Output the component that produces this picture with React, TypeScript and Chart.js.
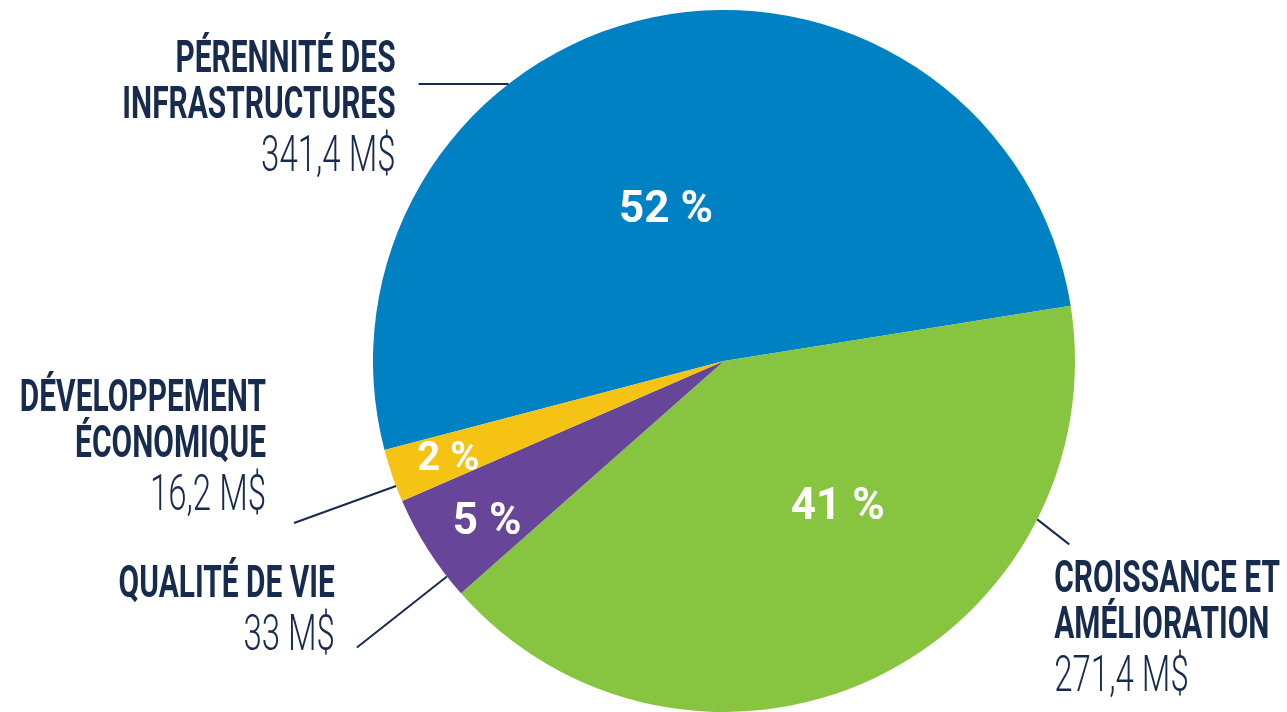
import React, { useEffect, useRef } from "react";
import { Chart, registerables } from "chart.js";

Chart.register(...registerables);

// ---- data ----
const categoryLines: string[][] = [
  ["PÉRENNITÉ DES", "INFRASTRUCTURES"],
  ["CROISSANCE ET", "AMÉLIORATION"],
  ["QUALITÉ DE VIE"],
  ["DÉVELOPPEMENT", "ÉCONOMIQUE"],
];
const amounts: number[] = [341.4, 271.4, 33, 16.2];
const unit = "M$";
const sliceColors: string[] = ["#0081c4", "#87c440", "#674599", "#f4c314"];

// ---- layout / style (annotation placement) ----
// percent label: fraction along arc, radius fraction, font size
const pctLayout = [
  { f: 0.453, r: 0.47, size: 44 },
  { f: 0.41, r: 0.52, size: 44 },
  { f: 0.44, r: 0.81, size: 44 },
  { f: 0.52, r: 0.83, size: 40 },
];
// leader: fraction along arc for start; offset of end from start; text offset from end
const leaderLayout = [
  { f: 0.36, dx: -90, dy: 0, tx: -23, ty: -12, align: "right" as CanvasTextAlign },
  { f: 0.243, dx: 32, dy: 25, tx: -15, ty: 48, align: "left" as CanvasTextAlign },
  { f: 0.2, dx: -90, dy: 71, tx: -22, ty: -50, align: "right" as CanvasTextAlign },
  { f: 0.3, dx: -102, dy: 37, tx: -28, ty: -112, align: "right" as CanvasTextAlign },
];
const NAVY = "#172b4f";
const BOLD_SIZE = 44;
const NUM_SIZE = 50;
const BOLD_SCALE = 0.68;
const NUM_SCALE = 0.66;
const LINE_GAP = 46;
const NUM_GAP = 53;

const total = amounts.reduce((a, b) => a + b, 0);
const fmtAmount = (v: number) => `${String(v).replace(".", ",")} ${unit}`;
const fmtPct = (v: number) => `${Math.round((v / total) * 100)} %`;

function drawScaled(
  ctx: CanvasRenderingContext2D,
  text: string,
  x: number,
  y: number,
  sx: number
) {
  ctx.save();
  ctx.translate(x, y);
  ctx.scale(sx, 1);
  ctx.fillText(text, 0, 0);
  ctx.restore();
}

const annotPlugin = {
  id: "annot",
  afterDatasetsDraw(chart: any) {
    const ctx: CanvasRenderingContext2D = chart.ctx;
    const meta = chart.getDatasetMeta(0);
    meta.data.forEach((arc: any, i: number) => {
      const { x, y, startAngle, endAngle, outerRadius } = arc.getProps(
        ["x", "y", "startAngle", "endAngle", "outerRadius"],
        true
      );
      // percent label
      const p = pctLayout[i];
      const a = startAngle + (endAngle - startAngle) * p.f;
      const px = x + Math.cos(a) * outerRadius * p.r;
      const py = y + Math.sin(a) * outerRadius * p.r;
      ctx.save();
      ctx.fillStyle = "#ffffff";
      ctx.font = `700 ${p.size}px Roboto, "Liberation Sans", sans-serif`;
      ctx.textAlign = "center";
      ctx.textBaseline = "alphabetic";
      ctx.fillText(fmtPct(amounts[i]), px, py + p.size * 0.355);
      ctx.restore();

      // leader line
      const L = leaderLayout[i];
      const la = startAngle + (endAngle - startAngle) * L.f;
      const sx = x + Math.cos(la) * outerRadius;
      const sy = y + Math.sin(la) * outerRadius;
      const ex = sx + L.dx;
      const ey = sy + L.dy;
      ctx.save();
      ctx.strokeStyle = NAVY;
      ctx.lineWidth = 2;
      ctx.beginPath();
      ctx.moveTo(sx, sy);
      ctx.lineTo(ex, ey);
      ctx.stroke();

      // category text
      ctx.fillStyle = NAVY;
      ctx.textAlign = L.align;
      ctx.textBaseline = "alphabetic";
      const tx = ex + L.tx;
      let ty = ey + L.ty;
      const lines = categoryLines[i];
      ctx.font = `700 ${BOLD_SIZE}px Roboto, "Liberation Sans", sans-serif`;
      lines.forEach((ln, k) => {
        if (k > 0) ty += LINE_GAP;
        drawScaled(ctx, ln, tx, ty, BOLD_SCALE);
      });
      ty += NUM_GAP;
      ctx.font = `300 ${NUM_SIZE}px Roboto, "Liberation Sans", sans-serif`;
      drawScaled(ctx, fmtAmount(amounts[i]), tx, ty, NUM_SCALE);
      ctx.restore();
    });
  },
};

export default function App() {
  const ref = useRef<HTMLCanvasElement | null>(null);
  useEffect(() => {
    if (!ref.current) return;
    const chart = new Chart(ref.current, {
      type: "pie",
      data: {
        labels: categoryLines.map((l) => l.join(" ")),
        datasets: [
          {
            data: amounts,
            backgroundColor: sliceColors,
            borderWidth: 0,
          },
        ],
      },
      options: {
        animation: false,
        responsive: true,
        maintainAspectRatio: false,
        rotation: 255.3,
        layout: { padding: { left: 373, right: 212, top: 10, bottom: 0 } },
        plugins: {
          legend: { display: false },
          tooltip: { enabled: false },
        },
      },
      plugins: [annotPlugin],
    });
    return () => chart.destroy();
  }, []);
  return (
    <div
      style={{
        position: "absolute",
        left: 0,
        top: 0,
        width: 1287,
        height: 712,
        background: "#ffffff",
      }}
    >
      <canvas ref={ref} />
    </div>
  );
}
